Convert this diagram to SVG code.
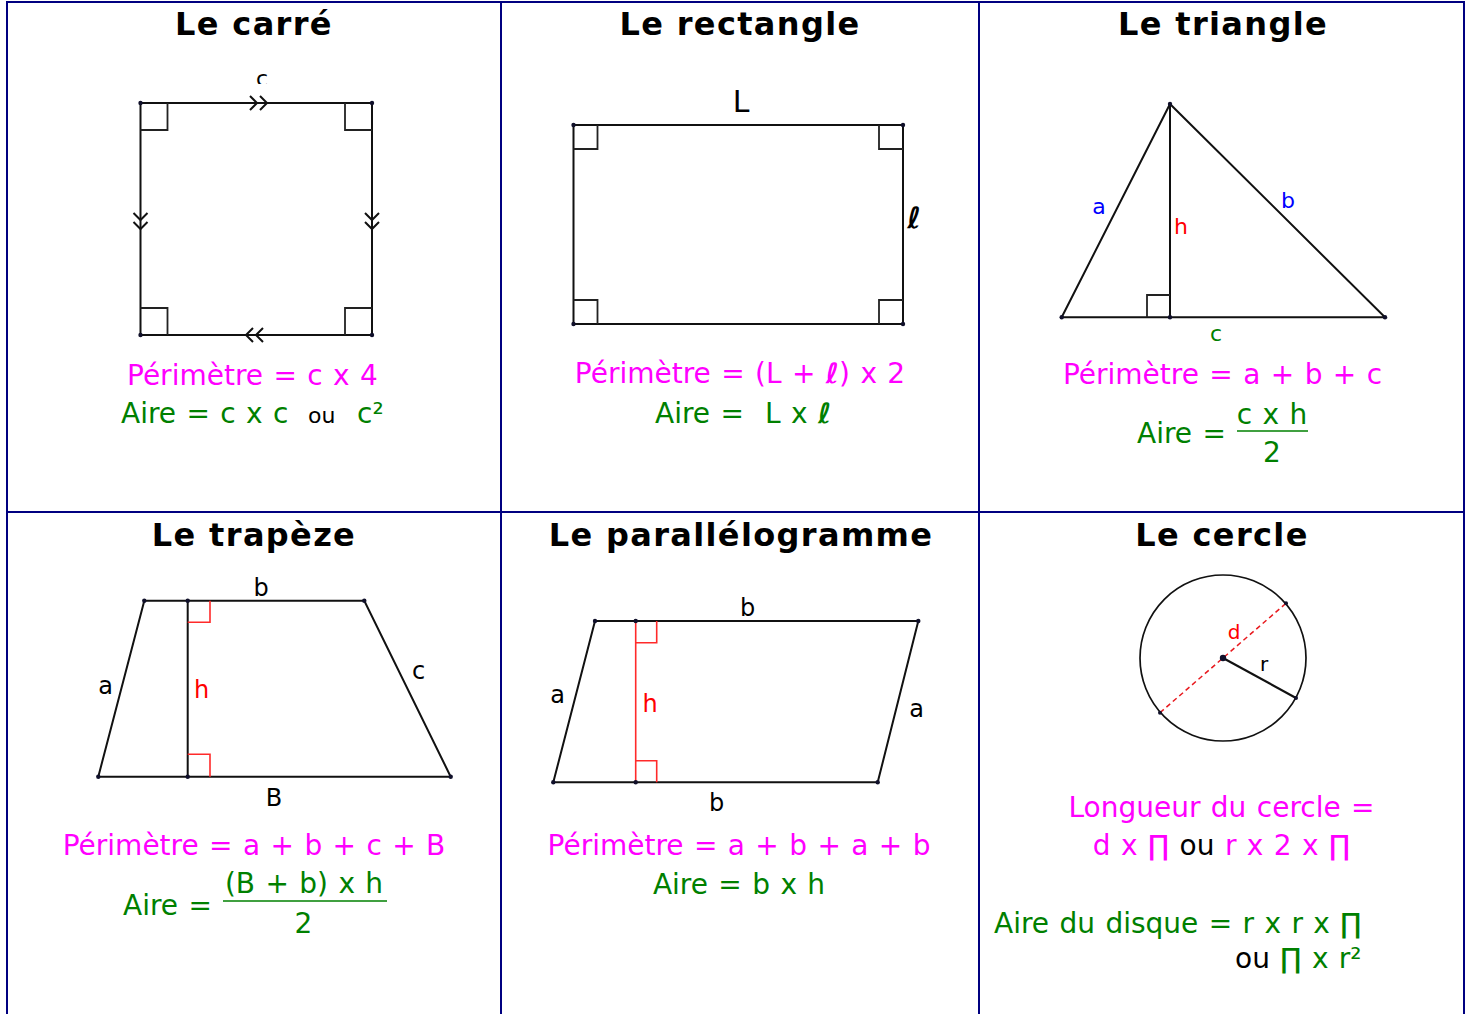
<svg xmlns="http://www.w3.org/2000/svg" width="1465" height="1014" viewBox="0 0 1465 1014">
<style>
.border{stroke:#000080;stroke-width:2;fill:none}
.title{font-family:"DejaVu Sans",Verdana,sans-serif;font-weight:bold;font-size:32px;letter-spacing:1.35px;text-anchor:middle;fill:#000}
.f{font-family:"DejaVu Sans",Verdana,sans-serif;font-size:28px;word-spacing:1.5px}
.mid{text-anchor:middle}
.mag{fill:#ff00ff}
.grn{fill:#008000}
.blk{fill:#000}
.edge{stroke:#111;stroke-width:2;fill:none}
.ra{stroke:#222;stroke-width:1.8;fill:none}
.rared{stroke:#ff2a2a;stroke-width:1.6;fill:none}
.dot{fill:#10102a}
.lbl{font-family:"DejaVu Sans",Verdana,sans-serif;font-size:24px;text-anchor:middle}
.sm{font-family:"DejaVu Sans",Verdana,sans-serif;font-size:22px;text-anchor:middle}
.ell{font-style:italic;font-weight:bold}
.bar{stroke:#008000;stroke-width:1.6}
</style>
<defs>
<clipPath id="cclip"><rect x="240" y="60" width="50" height="24"/></clipPath>
</defs>
<rect width="1465" height="1014" fill="#fff"/>

<g id="table">
<line class="border" x1="7" y1="2" x2="1464" y2="2"/>
<line class="border" x1="7" y1="512" x2="1464" y2="512"/>
<line class="border" x1="7" y1="1" x2="7" y2="1014"/>
<line class="border" x1="501" y1="1" x2="501" y2="1014"/>
<line class="border" x1="979" y1="1" x2="979" y2="1014"/>
<line class="border" x1="1464" y1="1" x2="1464" y2="1014"/>
</g>

<g id="carre">
<text class="title" x="254" y="35">Le carré</text>
<path class="edge" d="M140.5,103 H372 V335 H140.5 Z"/>
<path class="ra" d="M140.5,130 H167.5 V103 M345,103 V130 H372 M140.5,308 H167.5 V335 M345,335 V308 H372"/>
<path class="edge" d="M250,96 L257,103 L250,110 M260,96 L267,103 L260,110"/>
<path class="edge" d="M133.5,213 L140.5,220 L147.5,213 M133.5,222 L140.5,229 L147.5,222"/>
<path class="edge" d="M365,213 L372,220 L379,213 M365,222 L372,229 L379,222"/>
<path class="edge" d="M253,328 L246,335 L253,342 M263,328 L256,335 L263,342"/>
<g class="dot"><circle cx="140.5" cy="103" r="2.2"/><circle cx="372" cy="103" r="2.2"/><circle cx="140.5" cy="335" r="2.2"/><circle cx="372" cy="335" r="2.2"/></g>
<text class="sm blk" x="262" y="86" clip-path="url(#cclip)">c</text>
<text class="f mag" x="127" y="385">Périmètre = c x 4</text>
<text class="f grn" x="121" y="423">Aire = c x c<tspan class="blk" x="308" font-size="22">ou</tspan><tspan x="357">c²</tspan></text>
</g>

<g id="rectangle">
<text class="title" x="740" y="35">Le rectangle</text>
<rect class="edge" x="573.5" y="125" width="329.5" height="199"/>
<path class="ra" d="M573.5,149 H597.5 V125 M879,125 V149 H903 M573.5,300 H597.5 V324 M879,324 V300 H903"/>
<g class="dot"><circle cx="573.5" cy="125" r="2.2"/><circle cx="903" cy="125" r="2.2"/><circle cx="573.5" cy="324" r="2.2"/><circle cx="903" cy="324" r="2.2"/></g>
<text class="lbl blk" x="741" y="112" style="font-size:30px">L</text>
<text class="lbl blk ell" x="914" y="228" style="font-size:29px">ℓ</text>
<text class="f mag mid" x="740" y="383">Périmètre = (L + <tspan class="ell">ℓ</tspan>) x 2</text>
<text class="f grn" x="655" y="423">Aire =<tspan x="765">L x </tspan><tspan class="ell">ℓ</tspan></text>
</g>

<g id="triangle">
<text class="title" x="1223" y="35">Le triangle</text>
<path class="edge" d="M1061.7,317.3 L1170,104 L1385,317.3 Z M1170,104 V317.3"/>
<path class="ra" d="M1147,317.3 V295 H1170"/>
<g class="dot"><circle cx="1061.7" cy="317.3" r="2.2"/><circle cx="1170" cy="104" r="2.2"/><circle cx="1385" cy="317.3" r="2.2"/><circle cx="1170" cy="317.3" r="2.2"/></g>
<text class="sm" fill="#0000ff" x="1099" y="214">a</text>
<text class="sm" fill="#0000ff" x="1288" y="208">b</text>
<text class="sm" fill="#ff0000" x="1181" y="234">h</text>
<text class="sm grn" x="1216" y="341">c</text>
<text class="f mag mid" x="1222.5" y="384">Périmètre = a + b + c</text>
<text class="f grn" x="1137" y="443">Aire =</text>
<text class="f grn mid" x="1272" y="424">c x h</text>
<line class="bar" x1="1237" y1="431" x2="1308" y2="431"/>
<text class="f grn mid" x="1272" y="462">2</text>
</g>

<g id="trapeze">
<text class="title" x="254" y="546">Le trapèze</text>
<path class="edge" d="M144.3,600.7 H364.3 L450.7,776.7 H98.3 Z M187.7,600.7 V776.7"/>
<path class="rared" d="M187.7,622.3 H210 V600.7 M187.7,754.3 H210 V776.7"/>
<g class="dot"><circle cx="144.3" cy="600.7" r="2.2"/><circle cx="364.3" cy="600.7" r="2.2"/><circle cx="450.7" cy="776.7" r="2.2"/><circle cx="98.3" cy="776.7" r="2.2"/><circle cx="187.7" cy="600.7" r="2.2"/><circle cx="187.7" cy="776.7" r="2.2"/></g>
<text class="lbl blk" x="261" y="596">b</text>
<text class="lbl blk" x="105.5" y="694">a</text>
<text class="lbl" fill="#ff0000" x="201.5" y="698">h</text>
<text class="lbl blk" x="418.5" y="679">c</text>
<text class="lbl blk" x="274" y="806">B</text>
<text class="f mag mid" x="254" y="855">Périmètre = a + b + c + B</text>
<text class="f grn" x="123" y="915">Aire =</text>
<text class="f grn mid" x="304" y="893">(B + b) x h</text>
<line class="bar" x1="223" y1="901" x2="387" y2="901"/>
<text class="f grn mid" x="303.5" y="933">2</text>
</g>

<g id="parallelogramme">
<text class="title" x="741" y="546">Le parallélogramme</text>
<path class="edge" d="M595,621 H918.3 L877.7,782.3 H553.3 Z"/>
<path class="rared" d="M635.7,621 V782.3 M635.7,642.7 H656.7 V621 M635.7,760.7 H656.7 V782.3"/>
<g class="dot"><circle cx="595" cy="621" r="2.2"/><circle cx="918.3" cy="621" r="2.2"/><circle cx="877.7" cy="782.3" r="2.2"/><circle cx="553.3" cy="782.3" r="2.2"/><circle cx="635.7" cy="621" r="2.2"/><circle cx="635.7" cy="782.3" r="2.2"/></g>
<text class="lbl blk" x="747.5" y="616">b</text>
<text class="lbl blk" x="557.5" y="703">a</text>
<text class="lbl" fill="#ff0000" x="650" y="712">h</text>
<text class="lbl blk" x="916.5" y="717">a</text>
<text class="lbl blk" x="716.5" y="811">b</text>
<text class="f mag mid" x="739" y="855">Périmètre = a + b + a + b</text>
<text class="f grn mid" x="739" y="894">Aire = b x h</text>
</g>

<g id="cercle">
<text class="title" x="1222" y="546">Le cercle</text>
<circle cx="1223" cy="658" r="83" fill="none" stroke="#111" stroke-width="1.7"/>
<line x1="1160" y1="712.7" x2="1286" y2="603.3" stroke="#e8191e" stroke-width="1.5" stroke-dasharray="5,3.5"/>
<line x1="1223" y1="658" x2="1296" y2="698" stroke="#111" stroke-width="2.2"/>
<g class="dot"><circle cx="1223" cy="658" r="3.2"/><circle cx="1160" cy="712.7" r="2"/><circle cx="1286" cy="603.3" r="2"/><circle cx="1296" cy="698" r="2"/></g>
<text font-family="DejaVu Sans,Verdana,sans-serif" font-size="20" text-anchor="middle" fill="#ff0000" x="1234" y="639">d</text>
<text font-family="DejaVu Sans,Verdana,sans-serif" font-size="20" text-anchor="middle" fill="#000" x="1264" y="671">r</text>
<text class="f mag mid" x="1221.5" y="817">Longueur du cercle =</text>
<text class="f mag mid" x="1221.5" y="855">d x ∏ <tspan class="blk">ou</tspan> r x 2 x ∏</text>
<text class="f grn" x="994" y="933">Aire du disque = r x r x ∏</text>
<text class="f grn" x="1235" y="968"><tspan class="blk">ou</tspan> ∏ x r²</text>
</g>
</svg>
